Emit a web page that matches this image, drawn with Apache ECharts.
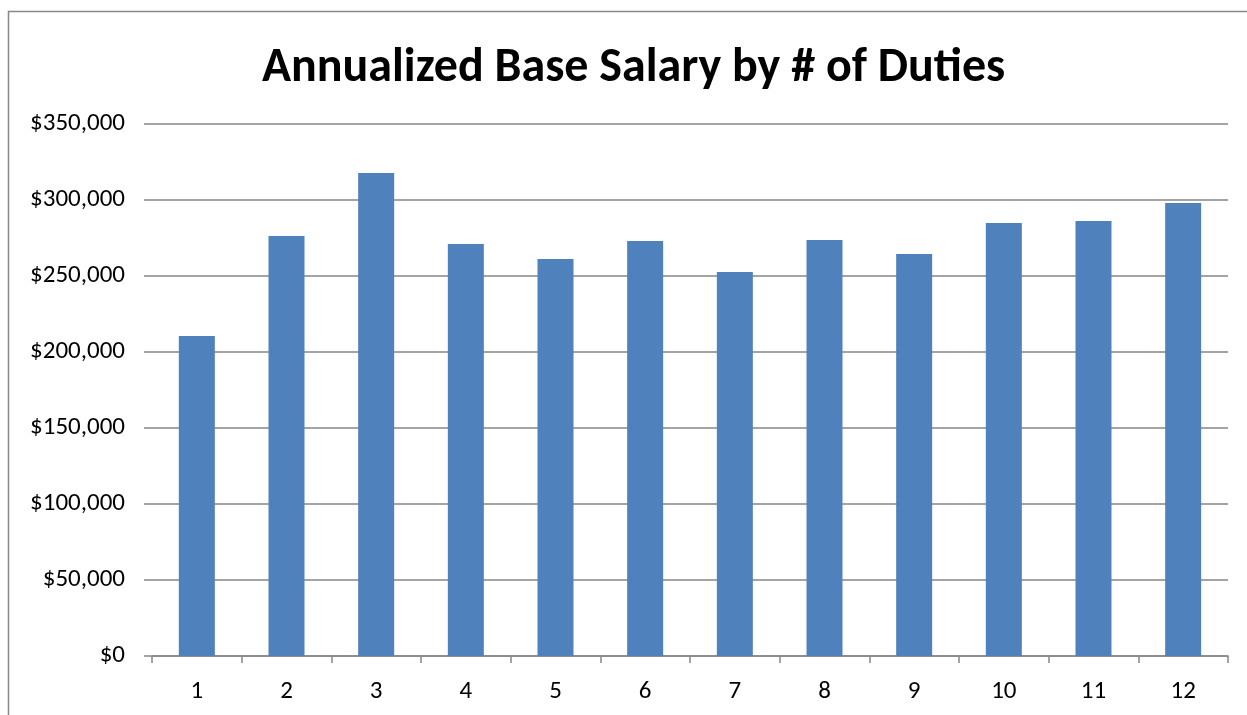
<!DOCTYPE html>
<html>
<head>
<meta charset="utf-8">
<script src="https://cdn.jsdelivr.net/npm/echarts@6/dist/echarts.min.js"></script>
<style>
    html, body { margin: 0; padding: 0; background: #fff; }
    #main { width: 1247px; height: 715px; }
</style>
</head>
<body>
<div id="main"></div>
<script>
// number of duties
var duties = ['1', '2', '3', '4', '5', '6', '7', '8', '9', '10', '11', '12'];
// annualized base salary
var salary = [210500, 276300, 317800, 271000, 261200, 273000, 252600, 273700, 264500, 284900, 286200, 298000];
var yTicks = [0, 50000, 100000, 150000, 200000, 250000, 300000, 350000];

var fontName = 'Carlito, Calibri, "Open Sans", sans-serif';

function money (v) {
    return '$' + v.toString().replace(/\B(?=(\d{3})+(?!\d))/g, ',');
}

var myChart = echarts.init(document.getElementById('main'));
myChart.setOption({
    animation: false,
    backgroundColor: '#fff',
    title: {
        text: 'Annualized Base Salary by # of Duties',
        left: 257,
        top: 40,
        textStyle: {
            fontFamily: fontName,
            fontSize: 48,
            fontWeight: 'bold',
            color: '#000'
        }
    },
    graphic: [{
        type: 'rect',
        shape: { x: 8.5, y: 11.5, width: 1300, height: 720 },
        style: { fill: 'none', stroke: '#888', lineWidth: 1.5 },
        silent: true
    }],
    grid: {
        top: 124,
        right: 19,
        bottom: 59,
        left: 152
    },
    xAxis: {
        type: 'category',
        data: duties,
        axisLine: {
            lineStyle: { color: '#868686', width: 1.5 }
        },
        axisTick: {
            show: true,
            length: 7,
            lineStyle: { color: '#868686', width: 1.5 }
        },
        axisLabel: {
            color: '#000',
            fontFamily: fontName,
            fontSize: 25,
            margin: 23
        },
        splitLine: { show: false }
    },
    yAxis: {
        type: 'value',
        min: yTicks[0],
        max: yTicks[yTicks.length - 1],
        interval: 50000,
        axisLine: { show: false },
        axisTick: {
            show: true,
            length: 8,
            lineStyle: { color: '#868686', width: 1.5 }
        },
        axisLabel: {
            color: '#000',
            fontFamily: fontName,
            fontSize: 25,
            margin: 27,
            formatter: money
        },
        splitLine: {
            lineStyle: { color: '#868686', width: 1.5 }
        }
    },
    series: [{
        type: 'bar',
        data: salary,
        barWidth: 36,
        itemStyle: {
            color: '#4f81bd'
        }
    }]
});
</script>
</body>
</html>
